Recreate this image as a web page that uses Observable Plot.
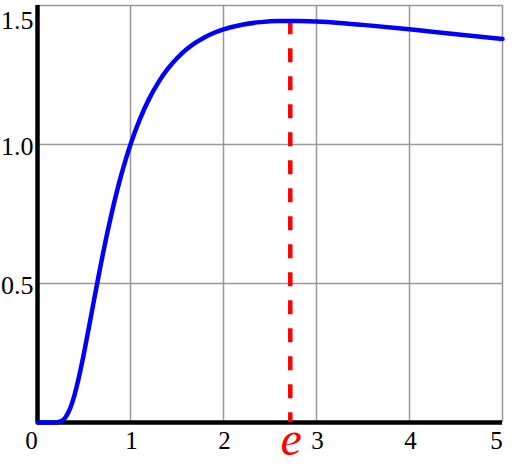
<!DOCTYPE html>
<html>
<head>
<meta charset="utf-8">
<script src="https://cdn.jsdelivr.net/npm/d3@7"></script>
<script src="https://cdn.jsdelivr.net/npm/@observablehq/plot@0.6"></script>
<style>
  html, body { margin: 0; padding: 0; background: #fff; }
  svg { display: block; }
</style>
</head>
<body>
<div id="chart"></div>
<script>
// Curve values (y = x^(1/x))
const xs = [0, 0.1, 0.15, 0.2, 0.25, 0.3, 0.35, 0.4, 0.45, 0.5, 0.55, 0.6, 0.65, 0.7, 0.75, 0.8, 0.85, 0.9, 0.95, 1.0,
            1.1, 1.2, 1.3, 1.4, 1.5, 1.6, 1.7, 1.8, 1.9, 2.0, 2.2, 2.4, 2.6, 2.8, 3.0, 3.25, 3.5, 4.0, 4.5, 5.0];
const ys = [0, 0, 0, 0.0003, 0.0039, 0.0181, 0.0498, 0.1012, 0.1696, 0.25, 0.3372, 0.4269, 0.5154, 0.6008, 0.6814, 0.7566, 0.826, 0.8895, 0.9474, 1.0,
            1.0905, 1.1641, 1.2236, 1.2717, 1.3104, 1.3415, 1.3663, 1.3861, 1.4019, 1.4142, 1.431, 1.4402, 1.4441, 1.4444, 1.4422, 1.4372, 1.4303, 1.4142, 1.3969, 1.3797];

const gridXTicks = [1, 2, 3, 4, 5];
const gridYTicks = [0.5, 1.0, 1.5];
const xTickLabels = [1, 2, 3, 4];
const xEdgeLabels = [0, 5];
const yTickLabels = [0.5, 1.0];
const yTopLabel = [1.5];
const eX = [2.718];
const eY = [1.4447];
const eLabel = ["e"];

const curve = xs.map((x, i) => ({x, y: ys[i]}));
const eData = eX.map((x, i) => ({x, y: eY[i], label: eLabel[i]}));

const font = "'Liberation Serif', 'DejaVu Serif', serif";
const xLab = {y: () => 0, text: d => String(d), fill: "#000", fontSize: 25, fontFamily: font, lineAnchor: "top", dy: 9};
const yLab = {x: () => 0, text: d => d.toFixed(1), fill: "#000", fontSize: 26, fontFamily: font, textAnchor: "end", dx: -4};

const chart = Plot.plot({
  width: 512,
  height: 465,
  marginLeft: 37,
  marginRight: 10,
  marginTop: 5,
  marginBottom: 43,
  style: {fontFamily: font, background: "#fff", overflow: "visible"},
  x: {domain: [0, 5], axis: null},
  y: {domain: [0, 1.5], axis: null},
  marks: [
    Plot.gridX(gridXTicks, {stroke: "#999", strokeOpacity: 1, strokeWidth: 1.5}),
    Plot.gridY(gridYTicks, {stroke: "#999", strokeOpacity: 1, strokeWidth: 1.5}),
    Plot.ruleX([0], {y1: 0, y2: 1.5, stroke: "#000", strokeWidth: 4.5}),
    Plot.ruleY([0], {x1: 0, x2: 5, stroke: "#000", strokeWidth: 4.5}),
    Plot.ruleX(eData, {x: "x", y1: "y", y2: () => 0, stroke: "#ff0000", strokeWidth: 4.5, strokeDasharray: "14,14"}),
    Plot.line(curve, {x: "x", y: "y", stroke: "#0000ff", strokeWidth: 4.5, curve: "monotone-x"}),
    Plot.text(xTickLabels, {...xLab, x: d => d, dx: 1}),
    Plot.text(xEdgeLabels, {...xLab, x: d => d, dx: -6}),
    Plot.text(yTickLabels, {...yLab, y: d => d, dy: 2}),
    Plot.text(yTopLabel, {...yLab, y: d => d, dy: 15}),
    Plot.text(eData, {x: "x", y: () => 0, text: "label", fill: "#ff0000", fontSize: 48, fontStyle: "italic", fontFamily: font, lineAnchor: "bottom", dy: 32, dx: 1})
  ]
});
document.getElementById("chart").appendChild(chart);
</script>
</body>
</html>
